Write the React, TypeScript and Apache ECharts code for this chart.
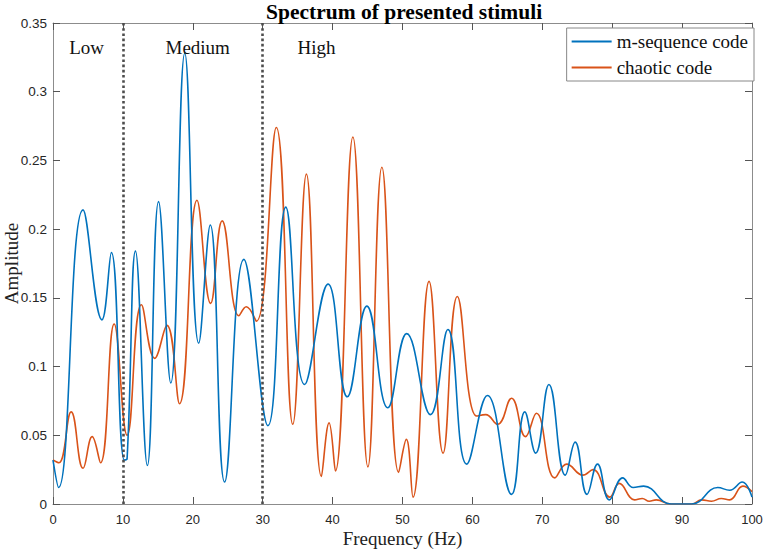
import React, { useEffect, useRef } from "react";
import * as echarts from "echarts";

// m-sequence code: [frequency (Hz), amplitude]
const mSequence: [number, number][] = [
  [0, 0.032], [0.8, 0.012], [4.3, 0.214], [7.0, 0.134], [8.35, 0.183],
  [10.2, 0.032], [10.6, 0.033], [11.8, 0.184], [13.5, 0.028], [15.1, 0.22],
  [16.85, 0.088], [18.85, 0.328], [20.85, 0.117], [22.5, 0.203], [24.55, 0.016],
  [27.3, 0.178], [30.75, 0.057], [33.3, 0.216], [36.0, 0.087], [39.35, 0.16],
  [42.1, 0.078], [44.9, 0.144], [47.9, 0.07], [50.6, 0.124], [54.0, 0.065],
  [56.5, 0.127], [59.2, 0.029], [62.15, 0.079], [65.6, 0.007], [67.5, 0.067],
  [69.05, 0.037], [70.95, 0.087], [73.3, 0.021], [74.7, 0.045], [76.4, 0.007],
  [77.9, 0.029], [79.6, 0.003], [81.5, 0.019], [83.0, 0.012], [84.5, 0.013],
  [88.4, 0], [91.4, 0], [95.1, 0.012], [96.8, 0.01], [98.6, 0.016], [100, 0.005],
];

// chaotic code
const chaotic: [number, number][] = [
  [0, 0.032], [0.85, 0.03], [2.6, 0.067], [4.3, 0.026], [5.6, 0.049],
  [6.8, 0.03], [8.75, 0.131], [10.6, 0.05], [12.65, 0.145], [14.55, 0.106],
  [16.3, 0.13], [18.1, 0.073], [20.6, 0.221], [22.55, 0.146], [24.2, 0.206],
  [26.6, 0.137], [27.65, 0.1435], [29.1, 0.133], [31.95, 0.274], [34.3, 0.058],
  [36.25, 0.24], [38.4, 0.02], [39.5, 0.059], [40.4, 0.024], [42.9, 0.267],
  [45.05, 0.027], [47.05, 0.245], [49.45, 0.023], [50.55, 0.047], [51.5, 0.005],
  [53.8, 0.162], [55.8, 0.037], [57.85, 0.151], [60.6, 0.064], [61.9, 0.065],
  [63.6, 0.058], [65.6, 0.077], [67.6, 0.049], [69.15, 0.066], [71.8, 0.019],
  [73.5, 0.029], [75.8, 0.021], [77.25, 0.025], [79.65, 0.005], [81.0, 0.015],
  [83.2, 0.003], [84.3, 0.004], [85.3, 0.002], [86.3, 0.003], [88.4, 0],
  [91.4, 0], [92.8, 0.003], [94.2, 0.002], [95.6, 0.004], [96.8, 0.003],
  [98.7, 0.013], [100, 0.009],
];

const seriesNames = ["m-sequence code", "chaotic code"];
const bandBoundaries = [10, 30];
const bandLabels = ["Low", "Medium", "High"];
const bandLabelFreq = [4.8, 20.7, 37.7];
const bandLabelAmp = 0.332;

const serif = "'Liberation Serif', 'DejaVu Serif', serif";
const sans = "'Liberation Sans', Arial, sans-serif";
const axisGray = "#8c8c8c";

export default function App() {
  const ref = useRef<HTMLDivElement>(null);
  useEffect(() => {
    document.body.style.margin = "0";
    if (!ref.current) return;
    const chart = echarts.init(ref.current, null, { renderer: "svg" });
    const xCommon = {
      type: "value" as const,
      min: 0,
      max: 100,
      interval: 10,
      axisLine: { show: true, onZero: false, lineStyle: { color: axisGray, width: 1 } },
      axisTick: { show: true, inside: true, length: 7, lineStyle: { color: "#555" } },
      splitLine: { show: false },
    };
    const yCommon = {
      type: "value" as const,
      min: 0,
      max: 0.35,
      interval: 0.05,
      axisLine: { show: true, onZero: false, lineStyle: { color: axisGray, width: 1 } },
      axisTick: { show: true, inside: true, length: 7, lineStyle: { color: "#555" } },
      splitLine: { show: false },
    };
    chart.setOption({
      animation: false,
      backgroundColor: "#ffffff",
      title: {
        text: "Spectrum of presented stimuli",
        left: 261,
        top: -4,
        textStyle: { fontFamily: serif, fontWeight: "bold", fontSize: 21.5, color: "#000" },
      },
      grid: {
        left: 53,
        right: 11,
        top: 23,
        bottom: 46,
        containLabel: false,
        outerBoundsMode: "none",
      },
      legend: {
        data: seriesNames,
        orient: "vertical",
        right: 9,
        top: 28,
        icon: "rect",
        itemWidth: 40,
        itemHeight: 2,
        itemGap: 7,
        padding: [4, 6, 4, 5],
        backgroundColor: "#ffffff",
        borderColor: "#888",
        borderWidth: 1,
        borderRadius: 0,
        textStyle: { fontFamily: serif, fontSize: 19, color: "#111", padding: [0, 0, 0, 0] },
      },
      xAxis: [
        {
          ...xCommon,
          position: "bottom",
          name: "Frequency (Hz)",
          nameLocation: "middle",
          nameGap: 25,
          nameMoveOverlap: false,
          nameTextStyle: { fontFamily: serif, fontSize: 19, color: "#222" },
          axisLabel: { fontFamily: sans, fontSize: 13, color: "#262626", margin: 9 },
        },
        { ...xCommon, position: "top", axisLabel: { show: false } },
      ],
      yAxis: [
        {
          ...yCommon,
          position: "left",
          name: "Amplitude",
          nameLocation: "middle",
          nameGap: 32,
          nameMoveOverlap: false,
          nameTextStyle: { fontFamily: serif, fontSize: 19, color: "#222" },
          axisLabel: { fontFamily: sans, fontSize: 13.5, color: "#262626", margin: 6 },
        },
        { ...yCommon, position: "right", axisLabel: { show: false } },
      ],
      series: [
        {
          name: seriesNames[0],
          type: "line",
          data: mSequence,
          smooth: 0.45,
          showSymbol: false,
          symbol: "none",
          lineStyle: { color: "#0072BD", width: 1.6 },
          itemStyle: { color: "#0072BD" },
          z: 3,
          markLine: {
            silent: true,
            symbol: "none",
            label: { show: false },
            lineStyle: { type: "dotted", color: "#4d4d4d", width: 2.6 },
            data: bandBoundaries.map((b) => ({ xAxis: b })),
          },
          markPoint: {
            silent: true,
            symbol: "rect",
            symbolSize: 1,
            itemStyle: { color: "transparent" },
            label: {
              show: true,
              position: "inside",
              formatter: "{b}",
              fontFamily: serif,
              fontSize: 19,
              color: "#111",
            },
            data: bandLabels.map((name, i) => ({ name, coord: [bandLabelFreq[i], bandLabelAmp] })),
          },
        },
        {
          name: seriesNames[1],
          type: "line",
          data: chaotic,
          smooth: 0.45,
          showSymbol: false,
          symbol: "none",
          lineStyle: { color: "#D95319", width: 1.6 },
          itemStyle: { color: "#D95319" },
          z: 2,
        },
      ],
    });
    return () => chart.dispose();
  }, []);
  return <div ref={ref} style={{ width: 763, height: 550 }} />;
}
